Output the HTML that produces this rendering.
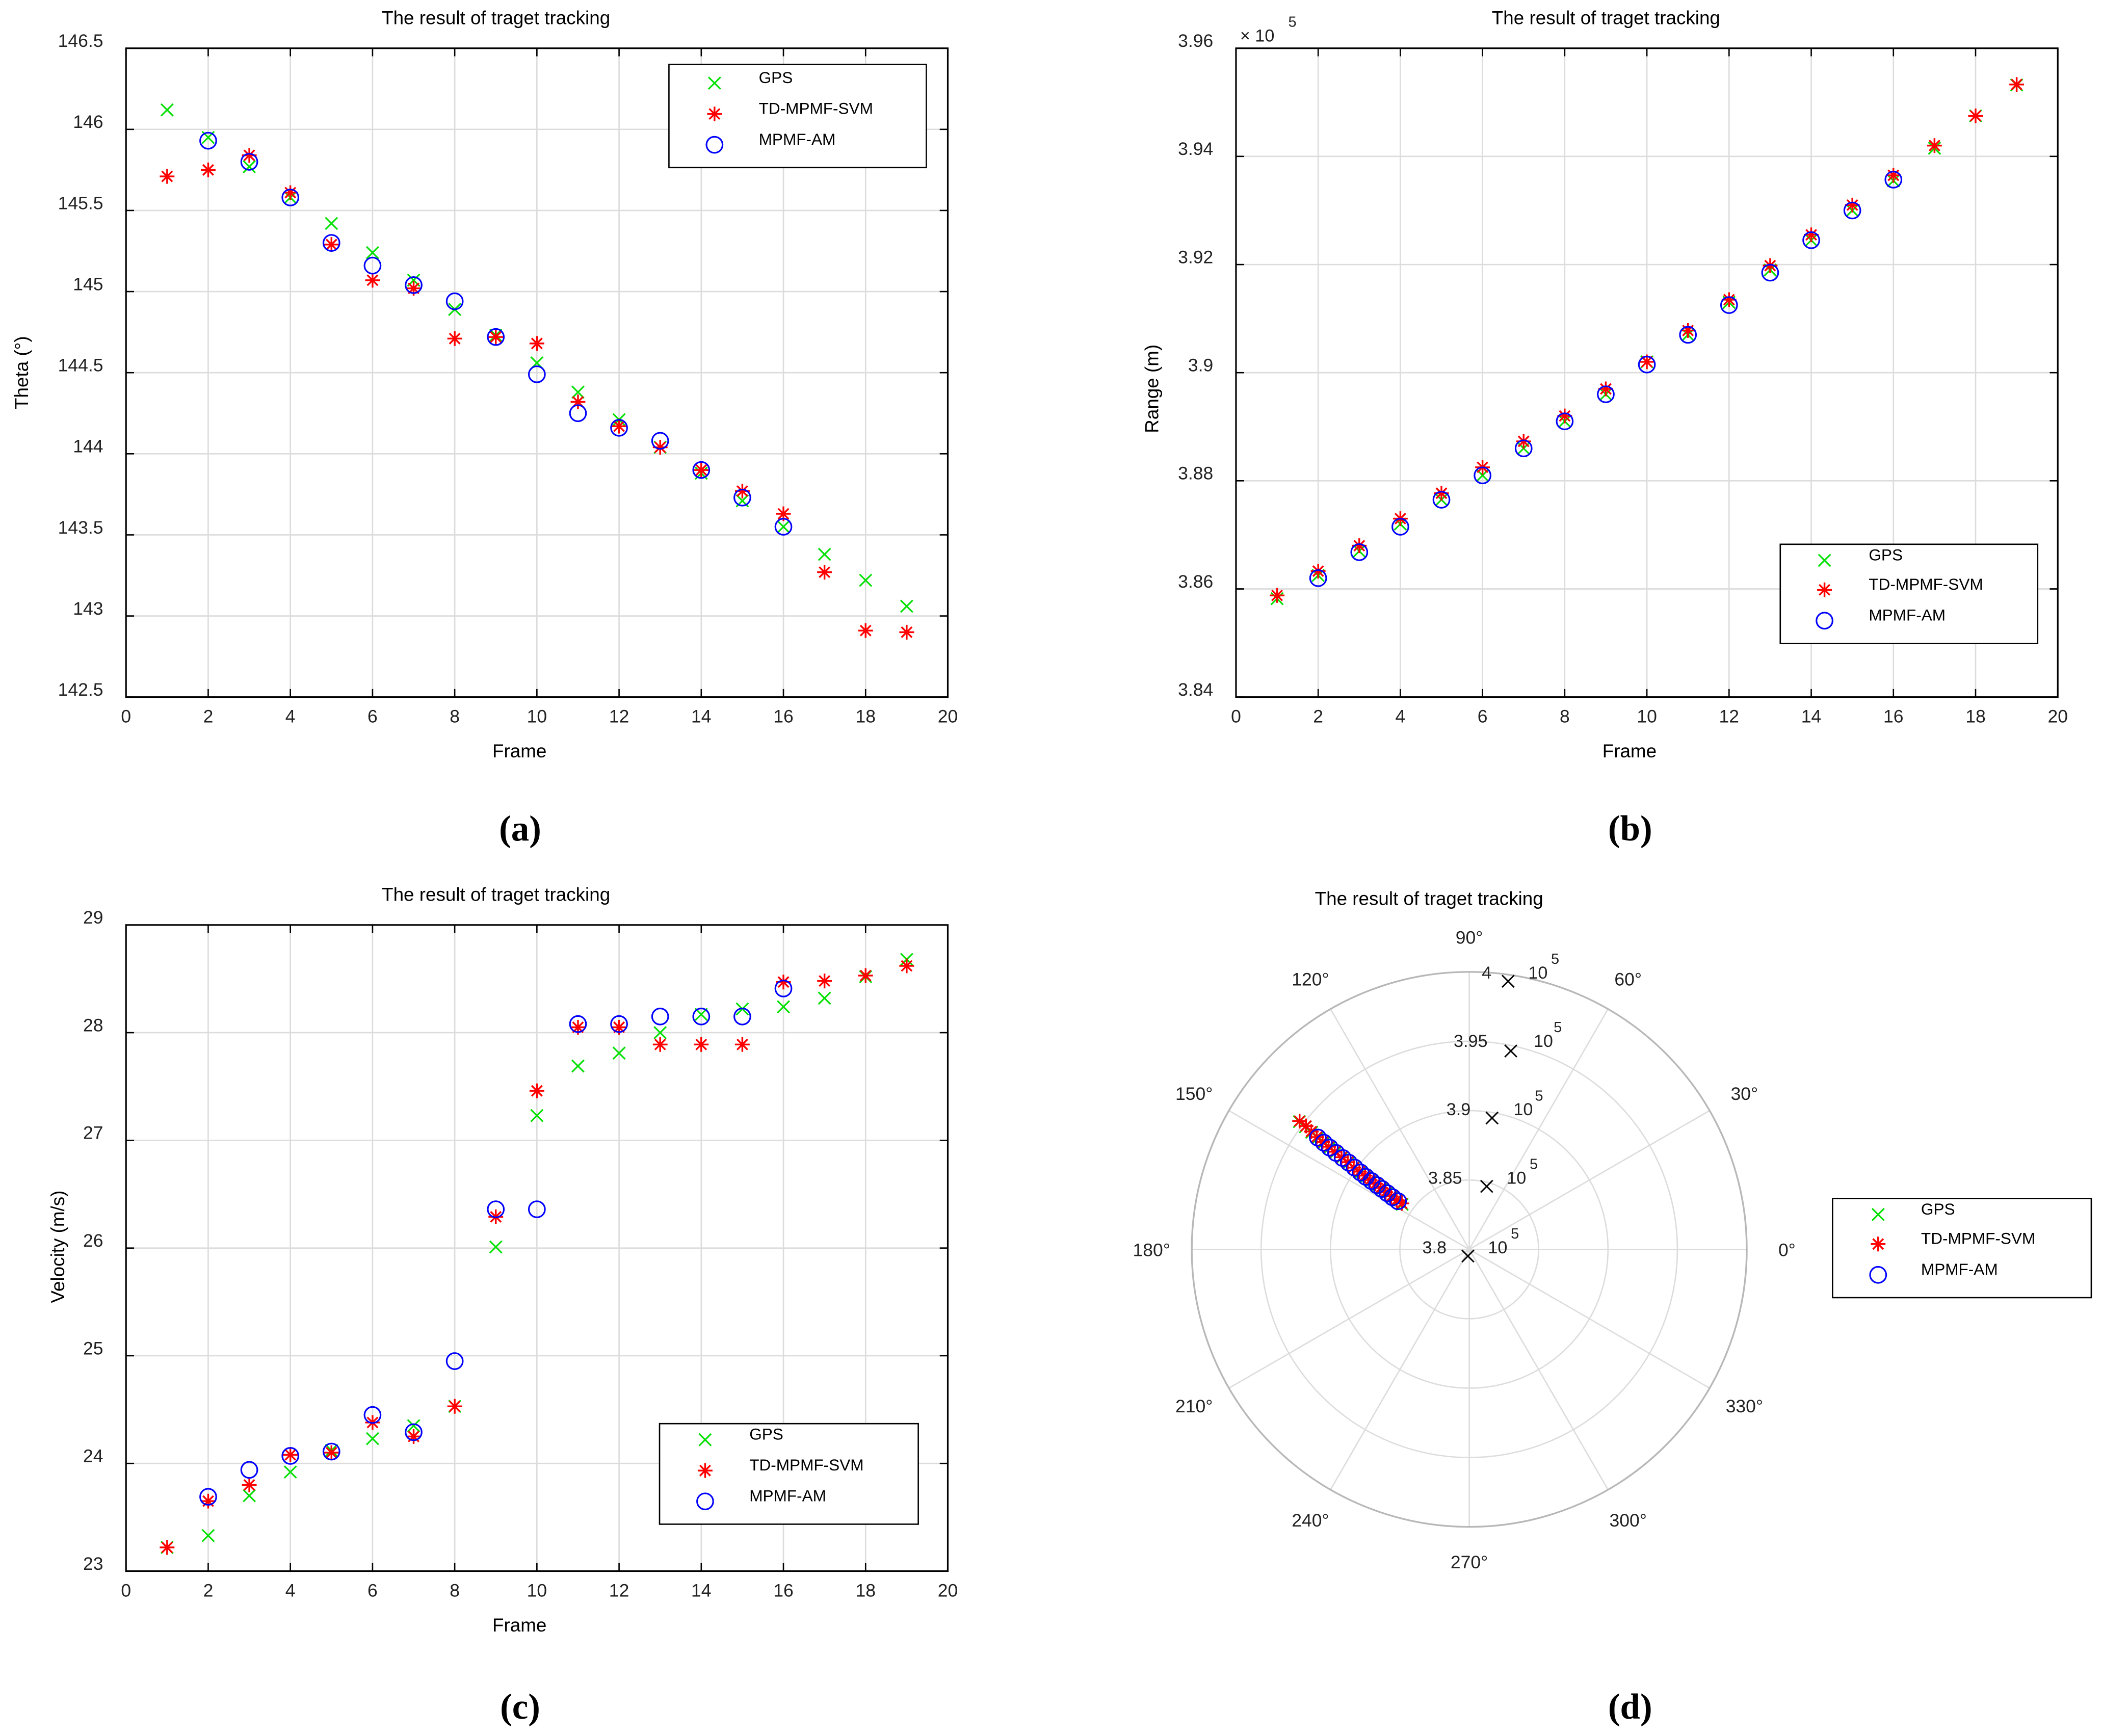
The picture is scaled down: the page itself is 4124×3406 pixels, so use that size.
<!DOCTYPE html>
<html><head><meta charset="utf-8"><style>
html,body{margin:0;padding:0;background:#fff;}
svg{display:block;font-family:"Liberation Sans",Arial,sans-serif;}
</style></head><body>
<svg id="fig" width="4124" height="3406" viewBox="0 0 1568 1295" xmlns="http://www.w3.org/2000/svg"></svg>
<script>
const frames=[1,2,3,4,5,6,7,8,9,10,11,12,13,14,15,16,17,18,19];
const amFrames=[2,3,4,5,6,7,8,9,10,11,12,13,14,15,16];
const thetaGPS=[146.12,145.95,145.77,145.58,145.42,145.24,145.07,144.89,144.73,144.56,144.38,144.21,144.04,143.88,143.71,143.55,143.38,143.22,143.06];
const thetaSVM=[145.71,145.75,145.84,145.61,145.29,145.07,145.02,144.71,144.72,144.68,144.32,144.17,144.04,143.90,143.77,143.63,143.27,142.91,142.90];
const thetaAM=[145.93,145.80,145.58,145.30,145.16,145.04,144.94,144.72,144.49,144.25,144.16,144.08,143.90,143.73,143.55];
const rangeGPS=[3.8582,3.8625,3.867,3.872,3.8765,3.881,3.886,3.891,3.896,3.902,3.907,3.913,3.919,3.9245,3.930,3.9355,3.9415,3.9475,3.9532];
const rangeSVM=[3.8588,3.8633,3.868,3.873,3.8777,3.8825,3.8873,3.892,3.897,3.902,3.9078,3.9135,3.9198,3.9255,3.931,3.9365,3.942,3.9475,3.9533];
const rangeAM=[3.862,3.8668,3.8715,3.8765,3.881,3.886,3.891,3.896,3.9015,3.907,3.9125,3.9185,3.9245,3.930,3.9357];
const velGPS=[23.22,23.33,23.70,23.92,24.12,24.23,24.35,24.53,26.01,27.23,27.69,27.81,28.00,28.17,28.22,28.24,28.32,28.52,28.68];
const velSVM=[23.22,23.65,23.80,24.08,24.10,24.38,24.25,24.53,26.29,27.46,28.05,28.05,27.89,27.89,27.89,28.47,28.48,28.53,28.62];
const velAM=[23.69,23.94,24.07,24.11,24.45,24.29,24.95,26.36,26.36,28.08,28.08,28.15,28.15,28.15,28.41];
const xTicks=[0,2,4,6,8,10,12,14,16,18,20];
const thetaTicks=[142.5,143,143.5,144,144.5,145,145.5,146,146.5];
const rangeTicks=[3.84,3.86,3.88,3.9,3.92,3.94,3.96];
const velTicks=[23,24,25,26,27,28,29];
const ringValues=[3.85,3.9,3.95,4.0];
const ringLabels=["3.8","3.85","3.9","3.95","4"];
const spokeAngles=[0,30,60,90,120,150,180,210,240,270,300,330];
const legendNames=["GPS","TD-MPMF-SVM","MPMF-AM"];

const NS="http://www.w3.org/2000/svg";
const svg=document.getElementById('fig');
function mk(parent,tag,attrs,txt){const e=document.createElementNS(NS,tag);for(const k in attrs)e.setAttribute(k,attrs[k]);if(txt!==undefined)e.textContent=txt;parent.appendChild(e);return e;}

function markX(g,x,y){const s=4.5;const e=mk(g,'path',{d:`M${x-s},${y-s}L${x+s},${y+s}M${x-s},${y+s}L${x+s},${y-s}`,stroke:'#00e000','stroke-width':1.2,fill:'none'});

return e;}
function markStar(g,x,y){const s=5.5,d=3.9;const e=mk(g,'path',{d:`M${x-s},${y}L${x+s},${y}M${x},${y-s}L${x},${y+s}M${x-d},${y-d}L${x+d},${y+d}M${x-d},${y+d}L${x+d},${y-d}`,stroke:'#ff0000','stroke-width':1.3,fill:'none'});

return e;}
function markO(g,x,y){const e=mk(g,'ellipse',{cx:x,cy:y,rx:6,ry:6,stroke:'#0000ff','stroke-width':1.2,fill:'none'});

return e;}

function legend(g,x0,y0,w,h,ys,mx,tx){
 const lg=mk(g,'g',{});
 
 
 mk(lg,'rect',{x:x0,y:y0,width:w,height:h,fill:'#fff',stroke:'#000','stroke-width':1});
 markX(lg,mx,ys[0]+4);markStar(lg,mx,ys[1]+4);markO(lg,mx,ys[2]+4);
 for(let i=0;i<3;i++){const t=mk(lg,'text',{x:tx,y:ys[i]+4,'font-size':12,fill:'#000'},legendNames[i]);
  
  }
}

function panel(cfg){
 const g=mk(svg,'g',{});
 
 
 const {x0,x1,y0,y1,ymin,ymax}=cfg;
 const sx=v=>x0+(v-0)/20*(x1-x0);
 const sy=v=>y1-(v-ymin)/(ymax-ymin)*(y1-y0);
 for(const t of xTicks){if(t>0&&t<20)mk(g,'line',{x1:sx(t),x2:sx(t),y1:y0,y2:y1,stroke:'#dcdcdc','stroke-width':1});}
 for(const t of cfg.yt){if(t>ymin&&t<ymax)mk(g,'line',{x1:x0,x2:x1,y1:sy(t),y2:sy(t),stroke:'#dcdcdc','stroke-width':1});}
 for(const t of xTicks){mk(g,'line',{x1:sx(t),x2:sx(t),y1:y1,y2:y1-6,stroke:'#000'});mk(g,'line',{x1:sx(t),x2:sx(t),y1:y0,y2:y0+6,stroke:'#000'});
  const tl=mk(g,'text',{x:sx(t),y:y1+19,'font-size':13.5,'text-anchor':'middle',fill:'#222'},String(t));
  
  }
 for(const t of cfg.yt){mk(g,'line',{x1:x0,x2:x0+6,y1:sy(t),y2:sy(t),stroke:'#000'});mk(g,'line',{x1:x1,x2:x1-6,y1:sy(t),y2:sy(t),stroke:'#000'});
  const tl=mk(g,'text',{x:x0-17,y:sy(t)-1,'font-size':13.5,'text-anchor':'end',fill:'#222'},String(t));
  
  }
 const box=mk(g,'rect',{x:x0,y:y0,width:x1-x0,height:y1-y0,fill:'none',stroke:'#000','stroke-width':1.2});
 
 
 const tt=mk(g,'text',{x:cfg.tx,y:y0-18,'font-size':14,'text-anchor':'middle',fill:'#000'},'The result of traget tracking');
 
 
 const xl=mk(g,'text',{x:(x0+x1)/2-13,y:y1+45,'font-size':14,'text-anchor':'middle',fill:'#000'},'Frame');
 
 
 const yl=mk(g,'text',{x:cfg.ylx,y:cfg.yly,'font-size':14,'text-anchor':'middle',fill:'#000',transform:`rotate(-90 ${cfg.ylx} ${cfg.yly})`},cfg.ylabel);
 
 
 frames.forEach((f,i)=>markX(g,sx(f),sy(cfg.gps[i])));
 frames.forEach((f,i)=>markStar(g,sx(f),sy(cfg.svm[i])));
 amFrames.forEach((f,i)=>markO(g,sx(f),sy(cfg.am[i])));
 legend(g,cfg.lg[0],cfg.lg[1],cfg.lg[2],cfg.lg[3],cfg.lg[4],cfg.lg[5],cfg.lg[6]);
 const cap=mk(g,'text',{x:cfg.capx,y:cfg.capy,'font-size':27,'font-weight':'bold','text-anchor':'middle','font-family':'"Liberation Serif",serif',fill:'#000'},cfg.cap);
 
 
 return g;
}

panel({name:'theta-chart',x0:94,x1:707,y0:36,y1:520,ymin:142.5,ymax:146.5,yt:thetaTicks,gps:thetaGPS,svm:thetaSVM,am:thetaAM,
 tx:370,ylabel:'Theta (°)',ylx:21,yly:278,lg:[499,48,192,77,[58,81,104],533,566],cap:'(a)',capx:388,capy:627});
const gb=panel({name:'range-chart',x0:922,x1:1535,y0:36,y1:520,ymin:3.84,ymax:3.96,yt:rangeTicks,gps:rangeGPS,svm:rangeSVM,am:rangeAM,
 tx:1198,ylabel:'Range (m)',ylx:864,yly:290,lg:[1328,406,192,74,[414,436,459],1361,1394],cap:'(b)',capx:1216,capy:627});
const ex=mk(gb,'text',{x:925,y:31,'font-size':13,fill:'#222'},'× 10');


const ex5=mk(gb,'text',{x:961,y:20,'font-size':11,fill:'#222'},'5');


panel({name:'velocity-chart',x0:94,x1:707,y0:690,y1:1172,ymin:23,ymax:29,yt:velTicks,gps:velGPS,svm:velSVM,am:velAM,
 tx:370,ylabel:'Velocity (m/s)',ylx:48,yly:930,lg:[492,1062,193,75,[1070,1093,1116],526,559],cap:'(c)',capx:388,capy:1282});

// polar panel
const pg=mk(svg,'g',{});


const cx=1096,cy=932,R=207,rmin=3.8,rmax=4.0;
const pr=v=>(v-rmin)/(rmax-rmin)*R;
for(const a of spokeAngles){const t=a*Math.PI/180;
 mk(pg,'line',{x1:cx,y1:cy,x2:cx+R*Math.cos(t),y2:cy-R*Math.sin(t),stroke:'#dcdcdc','stroke-width':1});
 const lt=mk(pg,'text',{x:cx+237*Math.cos(t),y:cy-233*Math.sin(t)+5,'font-size':13.5,'text-anchor':'middle',fill:'#222'},a+'°');
 
 }
ringValues.forEach((v,i)=>{const c=mk(pg,'circle',{cx:cx,cy:cy,r:pr(v),fill:'none',stroke:i===ringValues.length-1?'#b8b8b8':'#dcdcdc','stroke-width':i===ringValues.length-1?1.3:1});
 
 });
const pt=mk(pg,'text',{x:1066,y:675,'font-size':14,'text-anchor':'middle',fill:'#000'},'The result of traget tracking');


const rlab=[[1070,935,1095,937,1110,1127,924],[1078,883,1109,885,1124,1141,872],[1088,832,1113,834,1129,1145,821],[1097,781,1127,784,1144,1159,770],[1109,730,1125,732,1140,1157,719]];
ringLabels.forEach((s,i)=>{const p=rlab[i];
 const a=mk(pg,'text',{x:p[0],y:p[1],'font-size':13,'text-anchor':'middle',fill:'#222'},s);
 
 
 mk(pg,'path',{d:`M${p[2]-4.5},${p[3]-4.5}L${p[2]+4.5},${p[3]+4.5}M${p[2]-4.5},${p[3]+4.5}L${p[2]+4.5},${p[3]-4.5}`,stroke:'#000','stroke-width':1.1});
 const b=mk(pg,'text',{x:p[4],y:p[1],'font-size':13,fill:'#222'},'10');
 
 
 const c=mk(pg,'text',{x:p[5],y:p[6],'font-size':11,fill:'#222'},'5');
 
 });
function pxy(th,r){const t=th*Math.PI/180;return [cx+pr(r)*Math.cos(t),cy-pr(r)*Math.sin(t)];}
frames.forEach((f,i)=>{const p=pxy(thetaGPS[i],rangeGPS[i]);markX(pg,p[0],p[1]);});
frames.forEach((f,i)=>{const p=pxy(thetaSVM[i],rangeSVM[i]);markStar(pg,p[0],p[1]);});
amFrames.forEach((f,i)=>{const p=pxy(thetaAM[i],rangeAM[i]);markO(pg,p[0],p[1]);});
legend(pg,1367,894,193,74,[902,924,947],1401,1433);
const capd=mk(pg,'text',{x:1216,y:1282,'font-size':27,'font-weight':'bold','text-anchor':'middle','font-family':'"Liberation Serif",serif',fill:'#000'},'(d)');


</script>
</body></html>
